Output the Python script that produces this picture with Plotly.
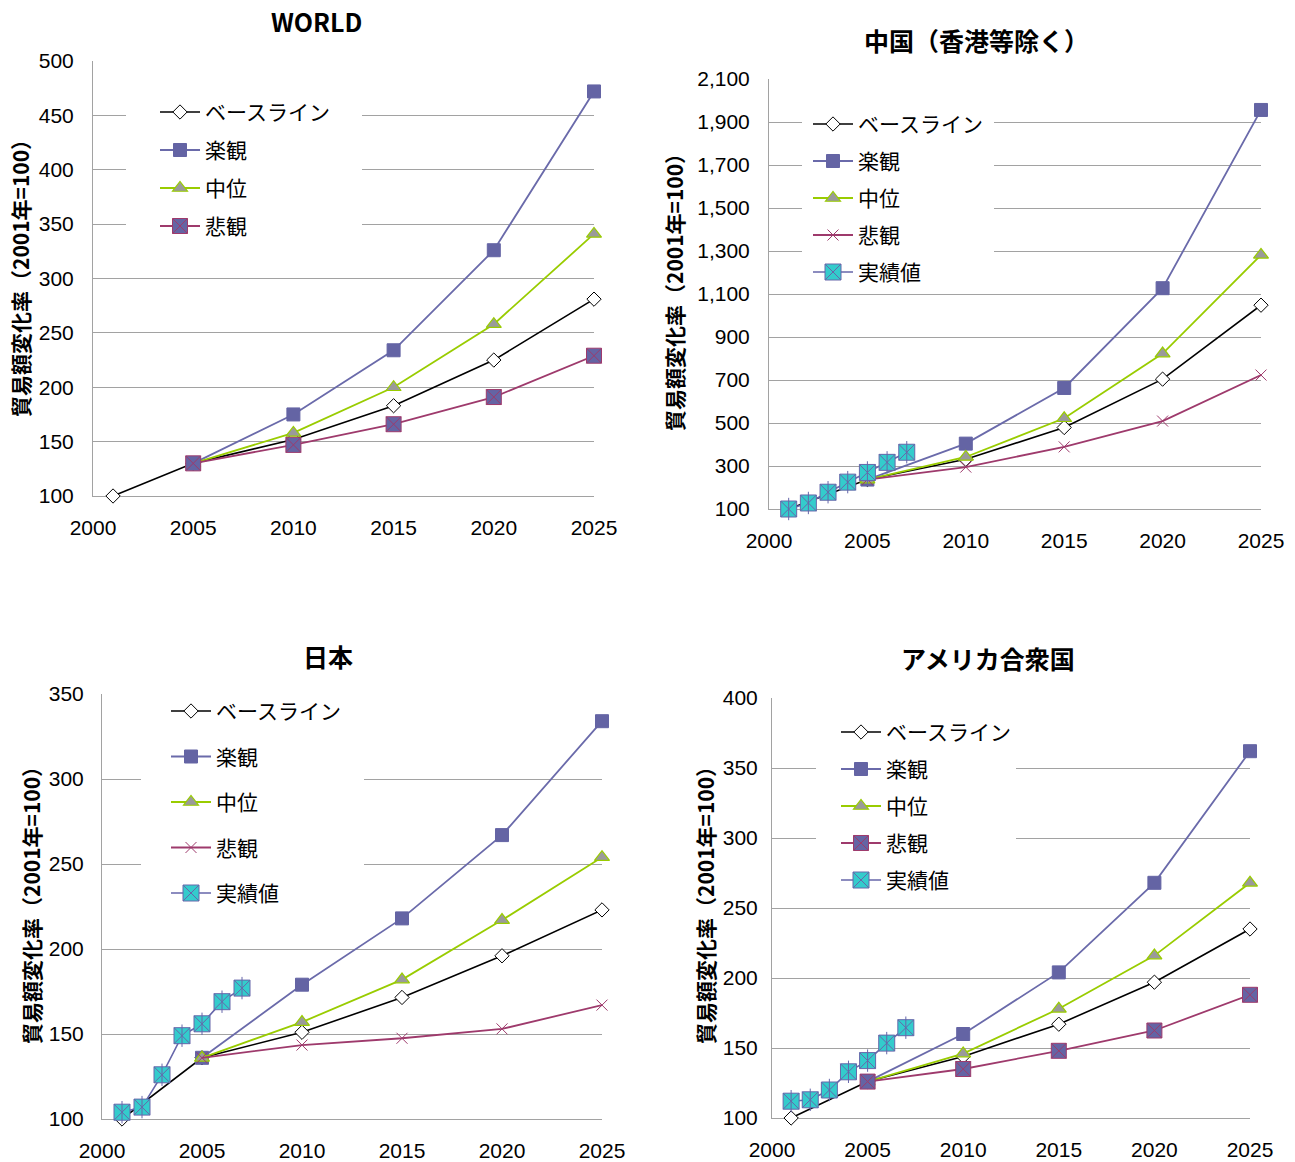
import plotly.graph_objects as go

W, H = 1295, 1162

# ---------------- data ----------------
years_base = [2001, 2005, 2010, 2015, 2020, 2025]
years_scn = [2005, 2010, 2015, 2020, 2025]
years_act = [2001, 2002, 2003, 2004, 2005, 2006, 2007]
x_ticks = [2000, 2005, 2010, 2015, 2020, 2025]

series_names = ["ベースライン", "楽観", "中位", "悲観", "実績値"]

world_base = [100, 130, 152, 183, 225, 281]
world_opt = [130, 175, 234, 326, 472]
world_mid = [130, 158, 200, 258, 341]
world_pes = [130, 147, 166, 191, 229]

china_base = [100, 237, 331, 479, 704, 1048]
china_opt = [237, 404, 663, 1127, 1956]
china_mid = [237, 342, 522, 823, 1282]
china_pes = [237, 295, 389, 509, 723]
china_act = [100, 128, 178, 225, 270, 317, 364]

japan_base = [100, 136, 151, 171.5, 196, 223]
japan_opt = [136, 179, 218, 267, 334]
japan_mid = [136, 157, 182, 217, 254]
japan_pes = [136, 143.5, 147.5, 153, 167]
japan_act = [104, 107, 126, 149, 156, 169, 177]

usa_base = [100, 126, 144, 167, 197, 235]
usa_opt = [126, 160, 204, 268, 362]
usa_mid = [126, 146, 178, 216, 268]
usa_pes = [126, 135, 148, 162.5, 188]
usa_act = [112, 113, 120, 133, 141, 153.5, 164.5]

panel_titles = ["WORLD", "中国（香港等除く）", "日本", "アメリカ合衆国"]
y_title = "貿易額変化率（2001年=100）"

# ---------------- style ----------------
CJK = "Noto Sans CJK JP"
NUM = "Liberation Sans"
GRID = "#A2A2A2"
C_BASE = "#000000"
C_OPT = "#6A6AAA"
C_OPT_FILL = "#6464A4"
C_MID = "#99CC00"
C_MID_FILL = "#9A9A9A"
C_PES = "#9E3A6C"
C_ACT_FILL = "#33CCCC"
C_ACT_LINE = "#6666AA"


def px_x(p):
    return p / W


def px_y(p):
    return 1 - p / H


# panel geometry in pixels: (left, right, top, bottom)
panels = [
    dict(box=(93, 594, 61, 496), yrange=(100, 500), dtick=50, fmt="",
         title_xy=(316, 21), ytitle_xy=(20, 273), ystand=14,
         leg=dict(x=155, first=112, gap=7.7), wbox=(126, 362, 85, 255)),
    dict(box=(769, 1261, 79, 509), yrange=(100, 2100), dtick=200, fmt=",",
         title_xy=(976, 40), ytitle_xy=(674, 287), ystand=14,
         leg=dict(x=808, first=124, gap=6.7), wbox=(802, 994, 95, 287)),
    dict(box=(102, 602, 694, 1119), yrange=(100, 350), dtick=50, fmt="",
         title_xy=(328, 656), ytitle_xy=(31, 900), ystand=13,
         leg=dict(x=166, first=711, gap=15.2), wbox=(141, 364, 685, 912)),
    dict(box=(772, 1250, 698, 1118), yrange=(100, 400), dtick=50, fmt="",
         title_xy=(988, 658), ytitle_xy=(705, 900), ystand=9,
         leg=dict(x=836, first=732, gap=6.7), wbox=(816, 1016, 712, 898)),
]

datasets = [
    (world_base, world_opt, world_mid, world_pes, None, "square"),
    (china_base, china_opt, china_mid, china_pes, china_act, "x"),
    (japan_base, japan_opt, japan_mid, japan_pes, japan_act, "x"),
    (usa_base, usa_opt, usa_mid, usa_pes, usa_act, "square"),
]

fig = go.Figure()
LEG_FONT = 21
ITEM_H = LEG_FONT * 1.3 + 3

for i, (pan, (base, opt, mid, pes, act, pes_kind)) in enumerate(zip(panels, datasets), start=1):
    sfx = "" if i == 1 else str(i)
    xa, ya = "x" + sfx, "y" + sfx
    leg = "legend" + sfx
    common = dict(xaxis=xa, yaxis=ya, legend=leg, cliponaxis=False,
                  mode="lines+markers")

    fig.add_trace(go.Scatter(
        x=years_base, y=base, name=series_names[0], legendgroup=f"g{i}a",
        line=dict(color=C_BASE, width=1.6),
        marker=dict(symbol="diamond", size=11, color="white",
                    line=dict(color="black", width=1)), **common))
    fig.add_trace(go.Scatter(
        x=years_scn, y=opt, name=series_names[1], legendgroup=f"g{i}b",
        line=dict(color=C_OPT, width=1.8),
        marker=dict(symbol="square", size=13, color=C_OPT_FILL,
                    line=dict(color=C_OPT_FILL, width=1)), **common))
    fig.add_trace(go.Scatter(
        x=years_scn, y=mid, name=series_names[2], legendgroup=f"g{i}c",
        line=dict(color=C_MID, width=1.8),
        marker=dict(symbol="triangle-up", size=13, color=C_MID_FILL,
                    line=dict(color=C_MID, width=1.2)), **common))
    if pes_kind == "square":
        pes_marker = dict(symbol="square-x", size=15, color=C_OPT_FILL,
                          line=dict(color=C_PES, width=1))
    else:
        pes_marker = dict(symbol="x-thin-open", size=11, color=C_PES,
                          line=dict(color=C_PES, width=1))
    fig.add_trace(go.Scatter(
        x=years_scn, y=pes, name=series_names[3], legendgroup=f"g{i}d",
        line=dict(color=C_PES, width=1.8), marker=pes_marker, **common))
    if act is not None:
        fig.add_trace(go.Scatter(
            x=years_act, y=act, name=series_names[4], legendgroup=f"g{i}e",
            line=dict(color=C_ACT_LINE, width=1.6),
            marker=dict(symbol="square-x", size=16, color=C_ACT_FILL,
                        line=dict(color=C_ACT_LINE, width=1)), **common))
        # vertical stroke completing the asterisk on each actual-value marker
        fig.add_trace(go.Scatter(
            x=years_act, y=act, mode="markers", xaxis=xa, yaxis=ya,
            legendgroup=f"g{i}e", showlegend=False, cliponaxis=False,
            hoverinfo="skip",
            marker=dict(symbol="line-ns-open", size=16, color=C_ACT_LINE,
                        line=dict(color=C_ACT_LINE, width=1))))

    l, r, t, b = pan["box"]
    fig.layout["xaxis" + sfx] = dict(
        domain=[px_x(l), px_x(r)], anchor=ya, range=[2000, 2025],
        tickvals=x_ticks, showgrid=False, zeroline=False,
        showline=True, linecolor=GRID, linewidth=1, ticks="",
        ticklabelstandoff=13, layer="below traces", automargin=False,
        tickfont=dict(family=NUM, size=21, color="black"), fixedrange=True)
    y0, y1 = pan["yrange"]
    fig.layout["yaxis" + sfx] = dict(
        domain=[px_y(b), px_y(t)], anchor=xa, range=[y0, y1],
        tick0=y0, dtick=pan["dtick"], tickformat=pan["fmt"],
        showgrid=True, gridcolor=GRID, gridwidth=1, zeroline=False,
        showline=True, linecolor=GRID, linewidth=1, ticks="",
        ticklabelstandoff=pan["ystand"], layer="below traces", automargin=False,
        tickfont=dict(family=NUM, size=21, color="black"), fixedrange=True)

    lg = pan["leg"]
    fig.layout[leg] = dict(
        x=px_x(lg["x"]), y=px_y(lg["first"] - 5 - ITEM_H / 2),
        xanchor="left", yanchor="top", bgcolor="rgba(0,0,0,0)",
        borderwidth=0, itemwidth=40, traceorder="grouped",
        tracegroupgap=lg["gap"],
        font=dict(family=CJK, size=LEG_FONT, color="black"))

    # white panel behind the legend hiding the gridlines
    wl, wr, wt, wb = pan["wbox"]
    fig.add_shape(type="rect", xref="paper", yref="paper",
                  x0=px_x(wl), x1=px_x(wr), y0=px_y(wb), y1=px_y(wt),
                  fillcolor="white", line=dict(width=0), layer="above")

    tx, ty = pan["title_xy"]
    fig.add_annotation(text=panel_titles[i - 1], xref="paper", yref="paper",
                       x=px_x(tx), y=px_y(ty), xanchor="center", yanchor="middle",
                       showarrow=False,
                       font=dict(family=CJK, size=25, color="black", weight="bold"))
    ax_, ay_ = pan["ytitle_xy"]
    fig.add_annotation(text=y_title, xref="paper", yref="paper",
                       x=px_x(ax_), y=px_y(ay_), xanchor="center", yanchor="middle",
                       textangle=-90, showarrow=False,
                       font=dict(family=CJK, size=21, color="black", weight="bold"))

fig.update_layout(
    width=W, height=H,
    margin=dict(l=0, r=0, t=0, b=0, pad=0, autoexpand=False),
    paper_bgcolor="white", plot_bgcolor="white",
    font=dict(family=CJK, color="black"), hovermode=False,
)

fig.write_html("out.html")
